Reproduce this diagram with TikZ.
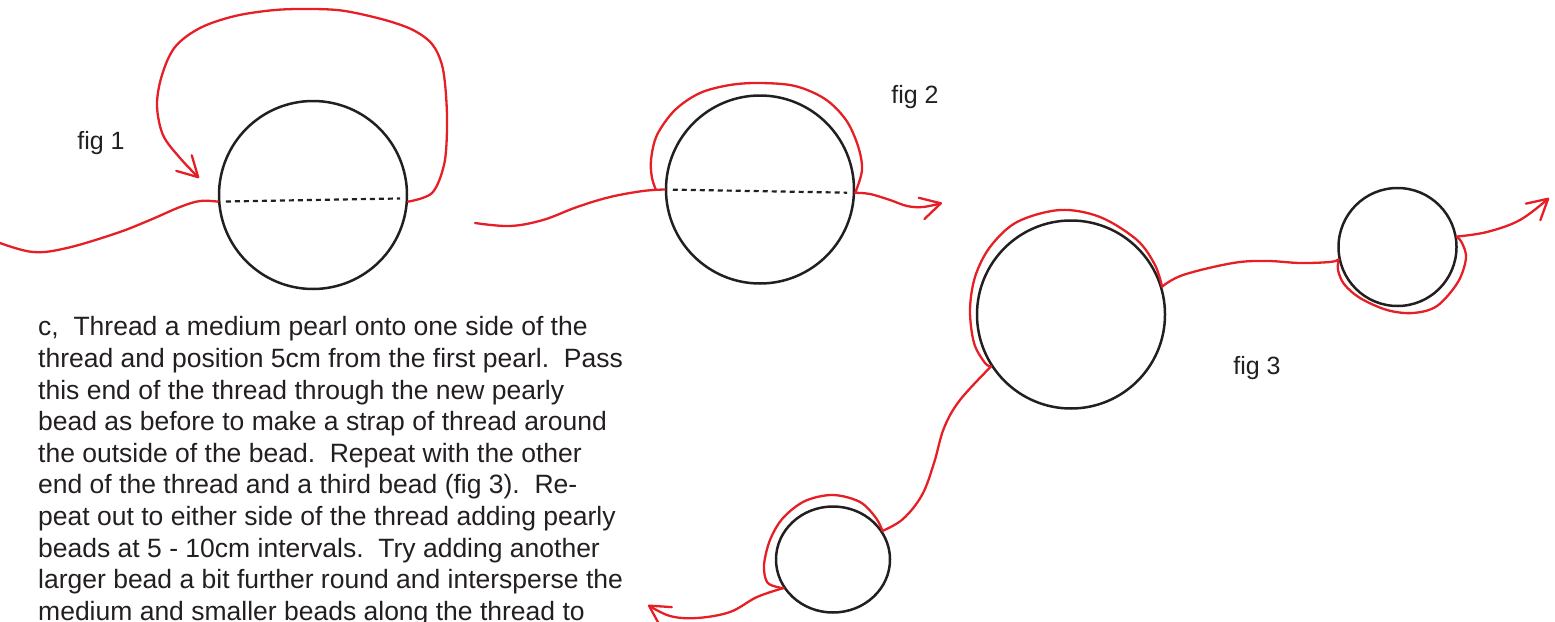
\documentclass[tikz,border=0pt]{standalone}
\usepackage{fontspec}
\setmainfont{Liberation Sans}
\usetikzlibrary{arrows.meta,shapes.geometric}
\definecolor{ink}{RGB}{35,31,32}
\definecolor{thr}{RGB}{230,30,37}
\frenchspacing

\begin{document}
\begin{tikzpicture}[x=1pt,y=1pt,
  bead/.style={circle,draw=ink,line width=2.5pt,inner sep=0pt,minimum size=#1},
  thread/.style={draw=thr,line width=2.3pt,line cap=round,line join=round},
  arr/.style={-{Straight Barb[length=20pt,width=22pt,round]}},
  hole/.style={draw=ink,line width=2.2pt,dash pattern=on 5pt off 4pt,shorten <=8pt,shorten >=8pt},
  lab/.style={font=\fontsize{25}{30}\selectfont,text=ink,inner sep=0pt}]
  \path[use as bounding box,clip] (0,0) rectangle (1555,-621);
  % fig 1: one bead, thread looped over the top and back into the hole
  \node[bead=188pt] (c1) at (313,-195) {};
  \coordinate (t1a) at (0,-243);
  \draw[hole] (c1.184) -- (c1.358);
  \draw[thread] plot[smooth,tension=0.6] coordinates {(t1a) (33,-252) (67,-248) (117,-233) (150,-220) (180,-207) (200,-201) (c1.184)};
  \draw[thread,arr] plot[smooth,tension=0.55] coordinates {(c1.356) (432,-193) (444,-165) (447,-130) (446,-95) (442,-65) (432,-44) (413,-30) (385,-20) (345,-11) (313,-9) (275,-10) (235,-16) (200,-28) (175,-47) (162,-75) (157,-105) (163,-135) (180,-158) (199,-178)};
  \node[lab] (f1) at (101,-143) {fig 1};
  % fig 2: the loop pulled tight round the bead
  \node[bead=188pt] (c2) at (760,-189.5) {};
  \coordinate (t2a) at (475,-223);
  \coordinate (s2) at (656,-190);
  \coordinate (t2b) at (942,-203);
  \draw[hole] (c2.180) -- (c2.358);
  \draw[thread] plot[smooth,tension=0.6] coordinates {(t2a) (510,-226) (543,-220) (577,-207) (610,-197) (643,-191) (c2.180)};
  \draw[thread] plot[smooth,tension=0.55] coordinates {(s2) (652,-178) (651,-160) (657,-135) (675,-110) (700,-93) (730,-85) (760,-83) (795,-86) (825,-99) (846,-120) (858,-146) (862,-170) (c2.358)};
  \draw[thread,arr] plot[smooth,tension=0.6] coordinates {(c2.358) (870,-194) (890,-200) (907,-206) (923,-207) (t2b)};
  \node[lab] (f2) at (915,-97) {fig 2};
  % fig 3: three beads strapped along the thread
  \node[bead=188pt] (c3) at (1071,-314.5) {};
  \node[bead=118pt] (c4) at (1397.5,-247) {};
  \node[ellipse,draw=ink,line width=2.5pt,inner sep=0pt,minimum width=114pt,minimum height=106pt] (c5) at (833,-559.5) {};
  \coordinate (t3a) at (648,-605);
  \coordinate (t3b) at (1549,-198);
  \draw[thread,arr] plot[smooth,tension=0.6] coordinates {(c5.210) (757,-597) (730,-612) (697,-618) (670,-616) (t3a)};
  \draw[thread] plot[smooth,tension=0.55] coordinates {(c5.210) (777,-587) (767,-582) (764,-565) (770,-540) (783,-518) (805,-501) (833,-495) (860,-502) (876,-518) (c5.30)};
  \draw[thread] plot[smooth,tension=0.6] coordinates {(c5.30) (903,-519) (922,-495) (934,-463) (944,-428) (960,-400) (c3.213)};
  \draw[thread] plot[smooth,tension=0.55] coordinates {(c3.213) (985,-363) (974,-343) (970,-310) (975,-277) (990,-247) (1017,-222) (1060,-210) (1100,-217) (1137,-240) (1155,-265) (c3.17)};
  \draw[thread] plot[smooth,tension=0.6] coordinates {(c3.17) (1183,-275) (1233,-263) (1267,-261) (1300,-263) (1330,-262) (c4.192)};
  \draw[thread] plot[smooth,tension=0.55] coordinates {(c4.192) (1338,-270) (1344,-284) (1360,-298) (1387,-310) (1413,-313) (1437,-306) (1458,-282) (1466,-258) (1462,-243) (c4.10)};
  \draw[thread,arr] plot[smooth,tension=0.6] coordinates {(c4.10) (1487,-232) (1520,-220) (t3b)};
  \node[lab] (f3) at (1257,-368) {fig 3};
  % instructions
  \node[anchor=north west,align=left,inner sep=0pt,text=ink,font=\fontsize{26.5}{31.6}\selectfont] (txt) at (38,-316.5) {%
    c,\ \ Thread a medium pearl onto one side of the\\
    thread and position 5cm from the first pearl.\ \ Pass\\
    this end of the thread through the new pearly\\
    bead as before to make a strap of thread around\\
    the outside of the bead.\ \ Repeat with the other\\
    end of the thread and a third bead (fig 3).\ \ Re-\\
    peat out to either side of the thread adding pearly\\
    beads at 5 - 10cm intervals.\ \ Try adding another\\
    larger bead a bit further round and intersperse the\\
    medium and smaller beads along the thread to};
\end{tikzpicture}
\end{document}
